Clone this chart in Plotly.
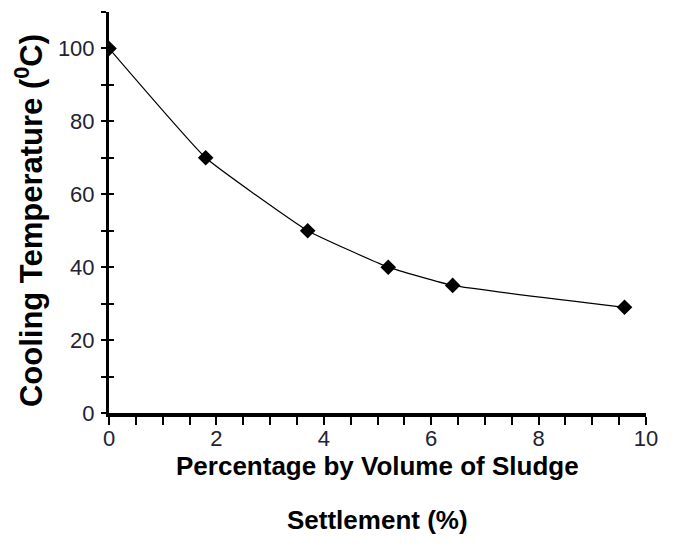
import plotly.graph_objects as go

settlement = [0, 1.8, 3.7, 5.2, 6.4, 9.6]
temperature = [100, 70, 50, 40, 35, 29]
x_ticks = [0, 2, 4, 6, 8, 10]
y_ticks = [0, 20, 40, 60, 80, 100]

fig = go.Figure()
fig.add_trace(go.Scatter(
    x=settlement, y=temperature, mode="lines+markers",
    line=dict(color="black", width=1.2, shape="spline", smoothing=0.35),
    marker=dict(symbol="diamond", size=12, color="black"),
    showlegend=False,
))
fig.add_trace(go.Scatter(x=[None], y=[None], yaxis="y2", showlegend=False))

font_tick = dict(family="Liberation Sans, Arial", size=22, color="#222233")
title_font = dict(family="Liberation Sans, Arial", size=26, color="black")
fig.update_layout(
    width=665, height=532,
    margin=dict(l=101, r=27, t=4, b=127),
    plot_bgcolor="white", paper_bgcolor="white",
    xaxis=dict(
        range=[0, 10], tickvals=x_ticks, showgrid=False, zeroline=False,
        showline=True, linecolor="black", linewidth=4,
        ticks="outside", ticklen=8, tickwidth=2, tickcolor="black",
        minor=dict(dtick=0.5, ticks="outside", ticklen=8, tickwidth=2, tickcolor="black"),
        tickfont=font_tick, ticklabelstandoff=-5,
    ),
    yaxis=dict(
        range=[0, 110], tickvals=y_ticks, showgrid=False, zeroline=False,
        showline=True, linecolor="black", linewidth=3,
        ticks="outside", ticklen=5, tickwidth=2, tickcolor="black",
        minor=dict(dtick=10, ticks="outside", ticklen=5, tickwidth=2, tickcolor="black"),
        tickfont=font_tick, ticklabelstandoff=2,
    ),
    yaxis2=dict(
        range=[0, 110], overlaying="y", side="left", showgrid=False, zeroline=False,
        showticklabels=False, ticks="inside", ticklen=5, tickwidth=2, tickcolor="black",
        tickvals=y_ticks,
        minor=dict(dtick=10, ticks="inside", ticklen=5, tickwidth=2, tickcolor="black"),
    ),
    annotations=[
        dict(text="<b>Cooling Temperature (<sup>0</sup>C)</b>", xref="paper", yref="paper",
             x=-0.149, y=0.481, xanchor="center", yanchor="middle", textangle=-90,
             showarrow=False, font=dict(family="Liberation Sans, Arial", size=31, color="black")),
        dict(text="<b>Percentage by Volume of Sludge</b>", xref="paper", yref="paper",
             x=0.5, y=-0.132, yanchor="middle", showarrow=False, font=title_font),
        dict(text="<b>Settlement (%)</b>", xref="paper", yref="paper",
             x=0.5, y=-0.267, yanchor="middle", showarrow=False, font=title_font),
    ],
)
fig.write_html("out.html")
